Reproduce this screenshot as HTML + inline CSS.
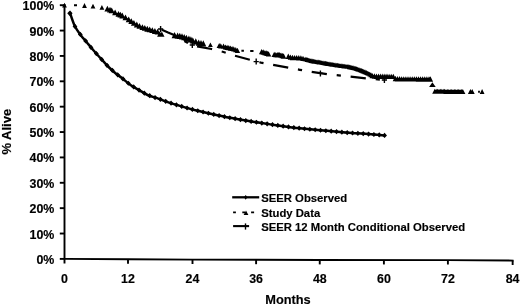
<!DOCTYPE html>
<html><head><meta charset="utf-8"><title>Survival chart</title>
<style>html,body{margin:0;padding:0;background:#fff;overflow:hidden}svg{display:block;filter:grayscale(1)}
text{font-family:"Liberation Sans", sans-serif;}</style></head>
<body>
<svg width="520" height="305" viewBox="0 0 520 305">
<rect width="520" height="305" fill="#fff"/>
<line x1="64.5" y1="3.9" x2="64.5" y2="263.5" stroke="#000" stroke-width="1.9"/>
<line x1="59.8" y1="258.90" x2="64.5" y2="258.90" stroke="#000" stroke-width="1.9"/>
<line x1="59.8" y1="233.53" x2="64.5" y2="233.53" stroke="#000" stroke-width="1.9"/>
<line x1="59.8" y1="208.16" x2="64.5" y2="208.16" stroke="#000" stroke-width="1.9"/>
<line x1="59.8" y1="182.79" x2="64.5" y2="182.79" stroke="#000" stroke-width="1.9"/>
<line x1="59.8" y1="157.42" x2="64.5" y2="157.42" stroke="#000" stroke-width="1.9"/>
<line x1="59.8" y1="132.05" x2="64.5" y2="132.05" stroke="#000" stroke-width="1.9"/>
<line x1="59.8" y1="106.68" x2="64.5" y2="106.68" stroke="#000" stroke-width="1.9"/>
<line x1="59.8" y1="81.31" x2="64.5" y2="81.31" stroke="#000" stroke-width="1.9"/>
<line x1="59.8" y1="55.94" x2="64.5" y2="55.94" stroke="#000" stroke-width="1.9"/>
<line x1="59.8" y1="30.57" x2="64.5" y2="30.57" stroke="#000" stroke-width="1.9"/>
<line x1="59.8" y1="5.20" x2="64.5" y2="5.20" stroke="#000" stroke-width="1.9"/>
<polyline points="64.00,258.90 128.00,259.30 192.50,259.60 256.10,259.80 319.75,260.00 447.90,260.10 513.60,260.60" fill="none" stroke="#000" stroke-width="1.9"/>
<line x1="128.00" y1="259.30" x2="128.00" y2="263.70" stroke="#000" stroke-width="1.9"/>
<line x1="192.50" y1="259.60" x2="192.50" y2="264.00" stroke="#000" stroke-width="1.9"/>
<line x1="256.10" y1="259.80" x2="256.10" y2="264.20" stroke="#000" stroke-width="1.9"/>
<line x1="319.75" y1="260.00" x2="319.75" y2="264.40" stroke="#000" stroke-width="1.9"/>
<line x1="383.90" y1="260.05" x2="383.90" y2="264.45" stroke="#000" stroke-width="1.9"/>
<line x1="447.90" y1="260.10" x2="447.90" y2="264.50" stroke="#000" stroke-width="1.9"/>
<line x1="512.65" y1="260.59" x2="512.65" y2="264.99" stroke="#000" stroke-width="1.9"/>
<path d="M70.10,13.30C70.90,15.47 73.12,22.65 74.90,26.30C76.68,29.95 78.83,32.55 80.80,35.20C82.77,37.85 84.60,39.68 86.70,42.20C88.80,44.72 91.07,47.60 93.40,50.30C95.73,53.00 98.25,55.70 100.70,58.40C103.15,61.10 105.63,64.03 108.10,66.50C110.57,68.97 113.18,71.27 115.50,73.20C117.82,75.13 119.50,76.13 122.00,78.10C124.50,80.07 127.65,83.00 130.50,85.00C133.35,87.00 136.25,88.43 139.10,90.10C141.95,91.77 144.77,93.70 147.60,95.00C150.43,96.30 153.83,97.13 156.10,97.90C158.37,98.67 158.88,98.77 161.20,99.60C163.52,100.43 165.45,101.43 170.00,102.90C174.55,104.37 183.50,107.00 188.50,108.40C193.50,109.80 195.75,110.28 200.00,111.30C204.25,112.32 209.00,113.42 214.00,114.50C219.00,115.58 224.67,116.78 230.00,117.80C235.33,118.82 241.00,119.77 246.00,120.60C251.00,121.43 255.00,122.03 260.00,122.80C265.00,123.57 270.67,124.43 276.00,125.20C281.33,125.97 288.00,126.88 292.00,127.40C296.00,127.92 295.33,127.83 300.00,128.30C304.67,128.77 313.33,129.58 320.00,130.20C326.67,130.82 335.67,131.60 340.00,132.00C344.33,132.40 342.33,132.33 346.00,132.60C349.67,132.87 357.38,133.28 362.00,133.60C366.62,133.92 369.97,134.20 373.70,134.50C377.43,134.80 382.62,135.25 384.40,135.40" fill="none" stroke="#000" stroke-width="2.5" stroke-linejoin="round"/>
<path d="M67.24,13.30L69.64,10.70L72.04,13.30L69.64,15.90ZM72.58,26.41L74.98,23.81L77.38,26.41L74.98,29.01ZM77.91,34.47L80.31,31.87L82.71,34.47L80.31,37.07ZM83.25,40.96L85.65,38.36L88.05,40.96L85.65,43.56ZM88.59,47.39L90.99,44.79L93.39,47.39L90.99,49.99ZM93.93,53.55L96.33,50.95L98.73,53.55L96.33,56.15ZM99.27,59.46L101.67,56.86L104.07,59.46L101.67,62.06ZM104.60,65.30L107.00,62.70L109.40,65.30L107.00,67.90ZM109.94,70.34L112.34,67.74L114.74,70.34L112.34,72.94ZM115.28,74.84L117.68,72.24L120.08,74.84L117.68,77.44ZM120.62,78.93L123.02,76.33L125.42,78.93L123.02,81.53ZM125.96,83.26L128.36,80.66L130.76,83.26L128.36,85.86ZM131.29,86.89L133.69,84.29L136.09,86.89L133.69,89.49ZM136.63,90.06L139.03,87.46L141.43,90.06L139.03,92.66ZM141.97,93.14L144.37,90.54L146.77,93.14L144.37,95.74ZM147.31,95.72L149.71,93.12L152.11,95.72L149.71,98.32ZM152.65,97.54L155.05,94.94L157.45,97.54L155.05,100.14ZM157.98,99.33L160.38,96.73L162.78,99.33L160.38,101.93ZM163.32,101.30L165.72,98.70L168.12,101.30L165.72,103.90ZM168.66,103.22L171.06,100.62L173.46,103.22L171.06,105.82ZM174.00,104.80L176.40,102.20L178.80,104.80L176.40,107.40ZM179.34,106.39L181.74,103.79L184.14,106.39L181.74,108.99ZM184.67,107.98L187.07,105.38L189.47,107.98L187.07,110.58ZM190.01,109.39L192.41,106.79L194.81,109.39L192.41,111.99ZM195.35,110.73L197.75,108.13L200.15,110.73L197.75,113.33ZM200.69,112.01L203.09,109.41L205.49,112.01L203.09,114.61ZM206.03,113.23L208.43,110.63L210.83,113.23L208.43,115.83ZM211.36,114.45L213.76,111.85L216.16,114.45L213.76,117.05ZM216.70,115.55L219.10,112.95L221.50,115.55L219.10,118.15ZM222.04,116.65L224.44,114.05L226.84,116.65L224.44,119.25ZM227.38,117.75L229.78,115.15L232.18,117.75L229.78,120.35ZM232.72,118.70L235.12,116.10L237.52,118.70L235.12,121.30ZM238.05,119.63L240.45,117.03L242.85,119.63L240.45,122.23ZM243.39,120.56L245.79,117.96L248.19,120.56L245.79,123.16ZM248.73,121.41L251.13,118.81L253.53,121.41L251.13,124.01ZM254.07,122.24L256.47,119.64L258.87,122.24L256.47,124.84ZM259.41,123.07L261.81,120.47L264.21,123.07L261.81,125.67ZM264.74,123.87L267.14,121.27L269.54,123.87L267.14,126.47ZM270.08,124.67L272.48,122.07L274.88,124.67L272.48,127.27ZM275.42,125.45L277.82,122.85L280.22,125.45L277.82,128.05ZM280.76,126.18L283.16,123.58L285.56,126.18L283.16,128.78ZM286.10,126.92L288.50,124.32L290.90,126.92L288.50,129.52ZM291.43,127.61L293.83,125.01L296.23,127.61L293.83,130.21ZM296.77,128.21L299.17,125.61L301.57,128.21L299.17,130.81ZM302.11,128.73L304.51,126.13L306.91,128.73L304.51,131.33ZM307.45,129.24L309.85,126.64L312.25,129.24L309.85,131.84ZM312.79,129.74L315.19,127.14L317.59,129.74L315.19,132.34ZM318.12,130.25L320.52,127.65L322.92,130.25L320.52,132.85ZM323.46,130.73L325.86,128.13L328.26,130.73L325.86,133.33ZM328.80,131.21L331.20,128.61L333.60,131.21L331.20,133.81ZM334.14,131.69L336.54,129.09L338.94,131.69L336.54,134.29ZM339.48,132.19L341.88,129.59L344.28,132.19L341.88,134.79ZM344.81,132.68L347.21,130.08L349.61,132.68L347.21,135.28ZM350.15,133.01L352.55,130.41L354.95,133.01L352.55,135.61ZM355.49,133.34L357.89,130.74L360.29,133.34L357.89,135.94ZM360.83,133.69L363.23,131.09L365.63,133.69L363.23,136.29ZM366.17,134.11L368.57,131.51L370.97,134.11L368.57,136.71ZM371.50,134.52L373.90,131.92L376.30,134.52L373.90,137.12ZM376.84,134.97L379.24,132.37L381.64,134.97L379.24,137.57ZM382.18,135.40L384.58,132.80L386.98,135.40L384.58,138.00ZM67.60,13.30L70.10,10.60L72.60,13.30L70.10,16.00ZM382.20,135.40L384.50,132.80L386.80,135.40L384.50,138.00Z" fill="#000"/>
<polyline points="160.6,29.3 168.1,32.6 174.0,35.0 192.3,45.5 211.5,49.0 223.5,52.0 235.0,55.8 250.0,59.8 256.2,61.5 261.0,62.6 272.6,64.8 288.2,67.6 299.8,69.8 311.5,71.9 326.9,74.2 338.6,75.4 350.6,76.7 366.2,78.4 384.4,80.0" fill="none" stroke="#000" stroke-width="2.2" stroke-dasharray="15.3 9.9 4.2 9.8" stroke-dashoffset="37.9"/>
<path d="M158.0,29.0H163.2M160.6,26.0V32.0M189.7,45.0H194.9M192.3,42.0V48.0M253.6,61.6H258.8M256.2,58.6V64.6M317.8,73.4H323.0M320.4,70.4V76.4M381.8,80.0H387.0M384.4,77.0V83.0" stroke="#000" stroke-width="1.4" fill="none"/>
<path d="M64.50,2.80L66.90,7.60L62.10,7.60ZM84.50,3.10L86.90,7.90L82.10,7.90ZM93.00,3.80L95.40,8.60L90.60,8.60ZM101.90,5.00L104.30,9.80L99.50,9.80ZM107.40,5.70L110.40,11.50L104.40,11.50ZM110.00,6.73L113.00,12.53L107.00,12.53ZM111.70,7.40L114.70,13.20L108.70,13.20ZM115.10,9.50L118.10,15.30L112.10,15.30ZM118.50,10.90L121.50,16.70L115.50,16.70ZM120.40,11.75L123.40,17.55L117.40,17.55ZM122.30,12.60L125.30,18.40L119.30,18.40ZM125.50,14.50L128.50,20.30L122.50,20.30ZM128.70,16.40L131.70,22.20L125.70,22.20ZM131.30,18.17L134.30,23.97L128.30,23.97ZM133.90,19.93L136.90,25.73L130.90,25.73ZM136.80,21.61L139.80,27.41L133.80,27.41ZM139.50,22.95L142.50,28.75L136.50,28.75ZM142.40,24.20L145.40,30.00L139.40,30.00ZM144.80,25.00L147.80,30.80L141.80,30.80ZM147.30,25.83L150.30,31.63L144.30,31.63ZM149.70,26.52L152.70,32.32L146.70,32.32ZM152.30,27.24L155.30,33.04L149.30,33.04ZM154.90,28.10L157.90,33.90L151.90,33.90ZM157.60,28.63L160.60,34.43L154.60,34.43ZM159.80,31.30L162.50,36.70L157.10,36.70ZM161.80,31.40L164.50,36.80L159.10,36.80ZM174.60,31.98L177.60,38.18L171.60,38.18ZM177.60,32.45L180.60,38.65L174.60,38.65ZM179.80,32.78L182.80,38.98L176.80,38.98ZM182.00,33.27L185.00,39.47L179.00,39.47ZM184.20,34.02L187.20,40.22L181.20,40.22ZM186.40,34.74L189.40,40.94L183.40,40.94ZM188.90,35.43L191.90,41.63L185.90,41.63ZM190.90,36.36L193.90,42.56L187.90,42.56ZM192.80,37.25L195.80,43.45L189.80,43.45ZM195.80,38.25L198.80,44.45L192.80,44.45ZM198.70,39.50L201.70,45.70L195.70,45.70ZM201.00,39.90L204.00,46.10L198.00,46.10ZM203.30,40.30L206.30,46.50L200.30,46.50ZM210.40,42.50L212.80,47.10L208.00,47.10ZM219.20,42.88L221.80,48.08L216.60,48.08ZM220.80,43.20L223.40,48.40L218.20,48.40ZM223.50,43.60L226.10,48.80L220.90,48.80ZM225.40,44.40L228.00,49.60L222.80,49.60ZM227.10,44.75L229.70,49.95L224.50,49.95ZM228.80,45.10L231.40,50.30L226.20,50.30ZM230.40,45.50L233.00,50.70L227.80,50.70ZM232.10,45.90L234.70,51.10L229.50,51.10ZM233.80,46.30L236.40,51.50L231.20,51.50ZM235.80,47.10L238.40,52.30L233.20,52.30ZM237.50,47.73L240.10,52.93L234.90,52.93ZM261.60,48.89L264.30,54.29L258.90,54.29ZM263.20,49.35L265.90,54.75L260.50,54.75ZM264.90,49.90L267.60,55.30L262.20,55.30ZM266.30,50.27L269.00,55.67L263.60,55.67ZM267.60,50.70L270.30,56.10L264.90,56.10ZM268.60,51.20L271.30,56.60L265.90,56.60ZM274.20,51.67L276.90,57.07L271.50,57.07ZM275.80,51.88L278.50,57.28L273.10,57.28ZM277.30,52.10L280.00,57.50L274.60,57.50ZM278.50,52.10L281.20,57.50L275.80,57.50ZM279.60,52.10L282.30,57.50L276.90,57.50ZM281.00,52.46L283.70,57.86L278.30,57.86ZM282.30,52.80L285.00,58.20L279.60,58.20ZM283.60,53.35L286.30,58.75L280.90,58.75ZM288.30,53.49L291.00,58.89L285.60,58.89ZM290.40,54.42L293.10,59.82L287.70,59.82ZM292.50,54.83L295.20,60.23L289.80,60.23ZM294.60,54.90L297.30,60.30L291.90,60.30ZM296.70,54.92L299.40,60.32L294.00,60.32ZM298.80,55.00L301.50,60.40L296.10,60.40ZM300.90,55.16L303.60,60.56L298.20,60.56ZM303.00,55.63L305.70,61.03L300.30,61.03ZM305.10,56.63L307.70,61.23L302.50,61.23ZM306.30,56.97L308.90,61.57L303.70,61.57ZM307.50,57.31L310.10,61.91L304.90,61.91ZM308.70,57.65L311.30,62.25L306.10,62.25ZM309.90,57.98L312.50,62.58L307.30,62.58ZM311.10,58.29L313.70,62.89L308.50,62.89ZM312.30,58.60L314.90,63.20L309.70,63.20ZM313.50,58.83L316.10,63.43L310.90,63.43ZM314.70,59.03L317.30,63.63L312.10,63.63ZM315.90,59.23L318.50,63.83L313.30,63.83ZM317.10,59.42L319.70,64.02L314.50,64.02ZM318.30,59.62L320.90,64.22L315.70,64.22ZM319.50,59.82L322.10,64.42L316.90,64.42ZM320.70,60.02L323.30,64.62L318.10,64.62ZM321.90,60.24L324.50,64.84L319.30,64.84ZM323.10,60.45L325.70,65.05L320.50,65.05ZM324.30,60.66L326.90,65.26L321.70,65.26ZM325.50,60.87L328.10,65.47L322.90,65.47ZM326.70,61.08L329.30,65.68L324.10,65.68ZM327.90,61.29L330.50,65.89L325.30,65.89ZM329.10,61.50L331.70,66.10L326.50,66.10ZM330.30,61.69L332.90,66.29L327.70,66.29ZM331.50,61.88L334.10,66.48L328.90,66.48ZM332.70,62.07L335.30,66.67L330.10,66.67ZM333.90,62.26L336.50,66.86L331.30,66.86ZM335.10,62.46L337.70,67.06L332.50,67.06ZM336.30,62.64L338.90,67.24L333.70,67.24ZM337.50,62.82L340.10,67.42L334.90,67.42ZM338.70,63.00L341.30,67.60L336.10,67.60ZM339.90,63.18L342.50,67.78L337.30,67.78ZM341.10,63.34L343.70,67.94L338.50,67.94ZM342.30,63.49L344.90,68.09L339.70,68.09ZM343.50,63.64L346.10,68.24L340.90,68.24ZM344.70,63.79L347.30,68.39L342.10,68.39ZM345.90,63.94L348.50,68.54L343.30,68.54ZM347.10,64.09L349.70,68.69L344.50,68.69ZM348.30,64.27L350.90,68.87L345.70,68.87ZM349.50,64.54L352.10,69.14L346.90,69.14ZM350.70,64.82L353.30,69.42L348.10,69.42ZM351.90,65.10L354.50,69.70L349.30,69.70ZM353.10,65.37L355.70,69.97L350.50,69.97ZM354.30,65.65L356.90,70.25L351.70,70.25ZM355.50,65.94L358.10,70.54L352.90,70.54ZM356.70,66.37L359.30,70.97L354.10,70.97ZM357.90,66.81L360.50,71.41L355.30,71.41ZM359.10,67.25L361.70,71.85L356.50,71.85ZM360.30,67.68L362.90,72.28L357.70,72.28ZM361.50,68.12L364.10,72.72L358.90,72.72ZM362.70,68.55L365.30,73.15L360.10,73.15ZM363.90,69.05L366.50,73.65L361.30,73.65ZM365.10,69.58L367.70,74.18L362.50,74.18ZM366.30,70.10L368.90,74.70L363.70,74.70ZM367.50,70.63L370.10,75.23L364.90,75.23ZM368.70,71.16L371.30,75.76L366.10,75.76ZM369.90,71.86L372.50,76.46L367.30,76.46ZM371.10,72.58L373.70,77.18L368.50,77.18ZM372.30,72.90L375.00,78.30L369.60,78.30ZM374.40,73.24L377.10,78.64L371.70,78.64ZM376.50,73.51L379.20,78.91L373.80,78.91ZM378.60,73.53L381.30,78.93L375.90,78.93ZM380.70,73.55L383.40,78.95L378.00,78.95ZM382.80,73.57L385.50,78.97L380.10,78.97ZM384.90,73.60L387.60,79.00L382.20,79.00ZM387.00,73.62L389.70,79.02L384.30,79.02ZM389.10,73.64L391.80,79.04L386.40,79.04ZM391.20,73.66L393.90,79.06L388.50,79.06ZM393.30,73.69L396.00,79.09L390.60,79.09ZM395.40,75.86L398.10,81.26L392.70,81.26ZM397.50,76.11L400.20,81.51L394.80,81.51ZM399.60,76.12L402.30,81.52L396.90,81.52ZM401.70,76.13L404.40,81.53L399.00,81.53ZM403.80,76.15L406.50,81.55L401.10,81.55ZM405.90,76.16L408.60,81.56L403.20,81.56ZM408.00,76.17L410.70,81.57L405.30,81.57ZM410.10,76.18L412.80,81.58L407.40,81.58ZM412.20,76.19L414.90,81.59L409.50,81.59ZM414.30,76.21L417.00,81.61L411.60,81.61ZM416.40,76.22L419.10,81.62L413.70,81.62ZM418.50,76.23L421.20,81.63L415.80,81.63ZM420.60,76.24L423.30,81.64L417.90,81.64ZM422.70,76.25L425.40,81.65L420.00,81.65ZM424.80,76.27L427.50,81.67L422.10,81.67ZM426.90,76.28L429.60,81.68L424.20,81.68ZM429.00,76.29L431.70,81.69L426.30,81.69ZM430.40,76.30L433.10,81.70L427.70,81.70ZM432.40,82.30L435.70,86.90L429.10,86.90ZM434.80,88.81L437.40,93.81L432.20,93.81ZM436.20,88.82L438.80,93.82L433.60,93.82ZM437.60,88.83L440.20,93.83L435.00,93.83ZM439.00,88.83L441.60,93.83L436.40,93.83ZM440.40,88.84L443.00,93.84L437.80,93.84ZM441.80,88.85L444.40,93.85L439.20,93.85ZM443.20,88.86L445.80,93.86L440.60,93.86ZM444.60,88.87L447.20,93.87L442.00,93.87ZM446.00,88.88L448.60,93.88L443.40,93.88ZM447.40,88.89L450.00,93.89L444.80,93.89ZM448.80,88.89L451.40,93.89L446.20,93.89ZM450.20,88.90L452.80,93.90L447.60,93.90ZM451.60,88.91L454.20,93.91L449.00,93.91ZM453.00,88.92L455.60,93.92L450.40,93.92ZM454.40,88.93L457.00,93.93L451.80,93.93ZM455.80,88.94L458.40,93.94L453.20,93.94ZM457.20,88.95L459.80,93.95L454.60,93.95ZM458.60,88.95L461.20,93.95L456.00,93.95ZM460.00,88.96L462.60,93.96L457.40,93.96ZM461.40,88.97L464.00,93.97L458.80,93.97ZM462.80,88.98L465.40,93.98L460.20,93.98ZM470.40,89.10L472.90,93.90L467.90,93.90ZM472.20,89.10L474.70,93.90L469.70,93.90ZM482.10,89.10L484.50,93.90L479.70,93.90Z" fill="#000"/>
<path d="M74,5.2H77M241.4,50.8H243.9M250.2,51.0H253.5M478.1,91.8H479.9" stroke="#000" stroke-width="1.9"/>
<line x1="232.2" y1="197.3" x2="259.2" y2="197.3" stroke="#000" stroke-width="2.3"/>
<path d="M244.00,197.30L245.70,194.90L247.40,197.30L245.70,199.70Z" fill="#000"/>
<path d="M233.1,212.4H235.9M242.3,212.4H245M251.1,212.4H254.1" stroke="#000" stroke-width="1.9"/>
<path d="M246.00,210.50L248.40,214.90L243.60,214.90Z" fill="#000"/>
<line x1="233.1" y1="226.1" x2="249.1" y2="226.1" stroke="#000" stroke-width="2.1"/>
<path d="M245.5,223.4V229.6" stroke="#000" stroke-width="1.4"/>
<g font-family="'Liberation Sans', sans-serif" font-weight="bold" fill="#000" stroke="#000" stroke-width="0.15">
<text x="54.3" y="263.9" text-anchor="end" font-size="12.4">0%</text>
<text x="54.3" y="238.5" text-anchor="end" font-size="12.4">10%</text>
<text x="54.3" y="213.2" text-anchor="end" font-size="12.4">20%</text>
<text x="54.3" y="187.8" text-anchor="end" font-size="12.4">30%</text>
<text x="54.3" y="162.4" text-anchor="end" font-size="12.4">40%</text>
<text x="54.3" y="137.0" text-anchor="end" font-size="12.4">50%</text>
<text x="54.3" y="111.7" text-anchor="end" font-size="12.4">60%</text>
<text x="54.3" y="86.3" text-anchor="end" font-size="12.4">70%</text>
<text x="54.3" y="60.9" text-anchor="end" font-size="12.4">80%</text>
<text x="54.3" y="35.6" text-anchor="end" font-size="12.4">90%</text>
<text x="54.3" y="10.2" text-anchor="end" font-size="12.4">100%</text>
<text x="64.5" y="283.0" text-anchor="middle" font-size="12.4">0</text>
<text x="128.0" y="283.0" text-anchor="middle" font-size="12.4">12</text>
<text x="192.5" y="283.0" text-anchor="middle" font-size="12.4">24</text>
<text x="256.1" y="283.0" text-anchor="middle" font-size="12.4">36</text>
<text x="319.8" y="283.0" text-anchor="middle" font-size="12.4">48</text>
<text x="383.9" y="283.0" text-anchor="middle" font-size="12.4">60</text>
<text x="447.9" y="283.0" text-anchor="middle" font-size="12.4">72</text>
<text x="512.6" y="283.0" text-anchor="middle" font-size="12.4">84</text>
<text x="288" y="304.2" text-anchor="middle" font-size="12.8">Months</text>
<text transform="translate(11.4,131.7) rotate(-90)" text-anchor="middle" font-size="13">% Alive</text>
<text x="261.2" y="201.9" font-size="11.3">SEER Observed</text>
<text x="261.2" y="216.8" font-size="11.3">Study Data</text>
<text x="261.2" y="231.3" font-size="11.3">SEER 12 Month Conditional Observed</text>
</g>
</svg>
</body></html>
